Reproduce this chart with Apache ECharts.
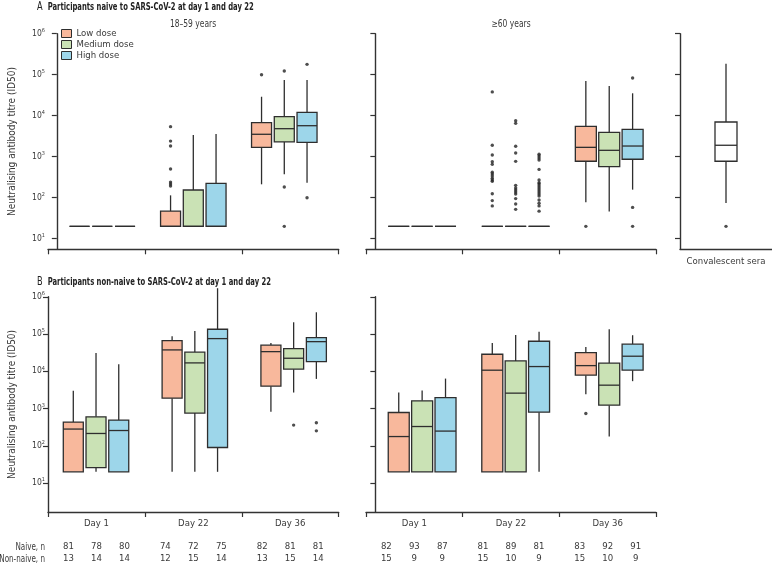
<!DOCTYPE html>
<html><head><meta charset="utf-8">
<script src="https://cdn.jsdelivr.net/npm/echarts@6/dist/echarts.min.js"></script>
<style>html,body{margin:0;padding:0;background:#fff}#c{width:772px;height:564px}</style>
</head><body><div id="c"></div>
<script>
const FONT = "'Liberation Sans Narrow','DejaVu Sans Condensed','Liberation Sans',sans-serif";
const TXT = '#3a3a3a';
const AXIS = '#333';
const STROKE = '#2e2e2e';

const doses = ['Low dose', 'Medium dose', 'High dose'];
const days = ['Day 1', 'Day 22', 'Day 36'];
const yTickExponents = [1, 2, 3, 4, 5, 6];

// Each box per day: [min, Q1, median, Q3, max] of ID50 titres
// A — naive participants, 18–59 years
const aYoungLow  = [[20,20,20,20,20], [20,20,20,47,114], [212,1690,3520,6750,29000]];
const aYoungMed  = [[20,20,20,20,20], [20,20,20,154,3380], [372,2290,4820,9460,74300]];
const aYoungHigh = [[20,20,20,20,20], [20,20,20,224,3580], [232,2245,5700,12100,74300]];
const aYoungLowOut  = [[], [5400,2400,1820,500,240,216,193], [100000]];
const aYoungMedOut  = [[], [], [123000,182,20]];
const aYoungHighOut = [[], [], [179000,100]];

// A — naive participants, >=60 years
const aOldLow  = [[20,20,20,20,20], [20,20,20,20,20], [77,773,1690,5500,70100]];
const aOldMed  = [[20,20,20,20,20], [20,20,20,20,20], [46,570,1430,3940,53000]];
const aOldHigh = [[20,20,20,20,20], [20,20,20,20,20], [157,865,1820,4660,35200]];
const aOldLowOut  = [[], [38000,1900,1100,750,650,420,380,340,300,270,250,125,85,63], [20]];
const aOldMedOut  = [[], [7500,6500,1800,1230,770,200,172,154,138,123,95,70,52], []];
const aOldHighOut = [[], [1150,1040,930,830,490,270,232,216,193,172,154,138,123,110,88,73,63,47], [83000,58,20]];

// A — convalescent sera
const convalescent = [74,773,1900,7010,185000];
const convalescentOut = [20];

// B — non-naive participants, 18–59 years
const bYoungLow  = [[20,20,281,432,2990], [20,1900,37500,66500,87300], [815,3980,33700,50100,57700]];
const bYoungMed  = [[20,26,214,598,31100], [20,753,16800,32500,121000], [2690,11400,22400,40600,207000]];
const bYoungHigh = [[20,20,257,489,15500], [20,90,75400,134600,1700000], [6250,18200,62500,80000,384000]];
const bYoungLowOut  = [[], [], []];
const bYoungMedOut  = [[], [], [359]];
const bYoungHighOut = [[], [], [414,252]];

// B — non-naive participants, >=60 years
const bOldLow  = [[20,20,177,782,2690], [20,20,10700,28700,57700], [2430,7850,14200,31700,45100]];
const bOldMed  = [[20,20,329,1610,3040], [20,20,2590,19000,94600], [177,1230,4240,16500,134600]];
const bOldHigh = [[20,20,248,1970,6370], [20,800,13400,64100,116000], [5430,10700,25400,53300,93000]];
const bOldLowOut  = [[], [], [735]];
const bOldMedOut  = [[], [], []];
const bOldHighOut = [[], [], []];

// Participant counts (per day: low, medium, high)
const naiveNYoung    = [[81,78,80], [74,72,75], [82,81,81]];
const nonNaiveNYoung = [[13,14,14], [12,15,14], [13,15,14]];
const naiveNOld      = [[82,93,87], [81,89,81], [83,92,91]];
const nonNaiveNOld   = [[15,9,9], [15,10,9], [15,10,9]];

const doseColors = ['#F8B89C', '#CAE2B5', '#9DD6EA'];

const panels = [
  {grid:{left:48, top:33.7, width:290.7, height:215.6}, yMin:0.741, xMin:-0.097, xMax:3.098, step:0.25, box:20,
   boxes:[aYoungLow, aYoungMed, aYoungHigh], outs:[aYoungLowOut, aYoungMedOut, aYoungHighOut], colors:doseColors,
   cats:days, catLabels:false, yLabels:true},
  {grid:{left:366, top:33.7, width:290, height:215.6}, yMin:0.741, xMin:-0.1, xMax:3.0, step:0.25, box:21,
   boxes:[aOldLow, aOldMed, aOldHigh], outs:[aOldLowOut, aOldMedOut, aOldHighOut], colors:doseColors,
   cats:days, catLabels:false, yLabels:false},
  {grid:{left:680, top:33.7, width:100, height:215.6}, yMin:0.741, xMin:0, xMax:1, step:0, box:22,
   boxes:[[convalescent]], outs:[[convalescentOut]], colors:['#ffffff'],
   cats:['Convalescent sera'], catLabels:true, yLabels:false, noXTicks:true},
  {grid:{left:48, top:296.8, width:290.7, height:215.5}, yMin:0.222, xMin:0.014, xMax:2.956, step:0.23, box:20,
   boxes:[bYoungLow, bYoungMed, bYoungHigh], outs:[bYoungLowOut, bYoungMedOut, bYoungHighOut], colors:doseColors,
   cats:days, catLabels:true, yLabels:true, table:[naiveNYoung, nonNaiveNYoung]},
  {grid:{left:366, top:296.8, width:290, height:215.5}, yMin:0.222, xMin:-0.1, xMax:3.0, step:0.25, box:21,
   boxes:[bOldLow, bOldMed, bOldHigh], outs:[bOldLowOut, bOldMedOut, bOldHighOut], colors:doseColors,
   cats:days, catLabels:true, yLabels:false, table:[naiveNOld, nonNaiveNOld]}
];

const grids = [], xAxes = [], yAxes = [], series = [];
const tableAxes = [];

function makeBoxRenderer(colors, boxW) {
  return function (params, api) {
    const x = api.value(0);
    const pMin = api.coord([x, api.value(1)]);
    const pQ1 = api.coord([x, api.value(2)]);
    const pMed = api.coord([x, api.value(3)]);
    const pQ3 = api.coord([x, api.value(4)]);
    const pMax = api.coord([x, api.value(5)]);
    const fill = colors[api.value(6)];
    const cx = pMin[0];
    const line = {stroke:STROKE, lineWidth:1.3};
    return {type:'group', children:[
      {type:'line', shape:{x1:cx, y1:pMax[1], x2:cx, y2:pQ3[1]}, style:line},
      {type:'line', shape:{x1:cx, y1:pQ1[1], x2:cx, y2:pMin[1]}, style:line},
      {type:'rect', shape:{x:cx - boxW/2, y:pQ3[1], width:boxW, height:pQ1[1] - pQ3[1]},
        style:{fill:fill, stroke:STROKE, lineWidth:1.3}},
      {type:'line', shape:{x1:cx - boxW/2, y1:pMed[1], x2:cx + boxW/2, y2:pMed[1]}, style:line}
    ]};
  };
}

panels.forEach((p, g) => {
  grids.push(p.grid);
  const nDose = p.boxes.length;
  const mid = (nDose - 1) / 2;
  xAxes.push({
    type:'category', gridIndex:g, data:p.cats, boundaryGap:true,
    axisLine:{show:true, lineStyle:{color:AXIS, width:1.4}},
    axisTick:{show:!p.noXTicks, length:5, lineStyle:{color:AXIS, width:1.2}},
    axisLabel:{show:p.catLabels, interval:0, margin:7, fontSize:9.5, fontFamily:FONT, color:TXT},
    splitLine:{show:false}
  });
  xAxes.push({type:'value', gridIndex:g, min:p.xMin, max:p.xMax, show:false, splitLine:{show:false}});
  yAxes.push({
    type:'value', gridIndex:g, min:p.yMin, max:6,
    axisLine:{show:true, lineStyle:{color:AXIS, width:1.4}},
    axisTick:{show:true, length:5, customValues:yTickExponents, lineStyle:{color:AXIS, width:1.2}},
    axisLabel:{show:p.yLabels, customValues:yTickExponents, margin:3,
      formatter:v => '{b|10}{s|' + v + '}',
      rich:{b:{fontSize:8.5, fontFamily:FONT, color:TXT, lineHeight:12},
            s:{fontSize:5.5, fontFamily:FONT, color:TXT, verticalAlign:'top'}}},
    splitLine:{show:false},
    name:p.yLabels ? 'Neutralising antibody titre (ID50)' : '',
    nameLocation:'middle', nameRotate:90, nameGap:31,
    nameTextStyle:{fontSize:10, fontFamily:FONT, color:TXT}
  });
  const boxItems = [], outItems = [];
  p.boxes.forEach((doseBoxes, k) => {
    doseBoxes.forEach((b, d) => {
      const x = d + 0.5 + (k - mid) * p.step;
      boxItems.push([x].concat(b.map(v => Math.log10(v)), [k]));
      p.outs[k][d].forEach(v => outItems.push([x, Math.log10(v)]));
    });
  });
  series.push({
    type:'custom', xAxisIndex:2*g + 1, yAxisIndex:g, silent:true,
    renderItem:makeBoxRenderer(p.colors, p.box),
    encode:{x:0, y:[1,2,3,4,5]},
    data:boxItems
  });
  series.push({
    type:'scatter', xAxisIndex:2*g + 1, yAxisIndex:g, symbolSize:3.4, silent:true,
    itemStyle:{color:'#222'}, data:outItems
  });
  if (p.table) tableAxes.push({g, table:p.table, cats:p.cats});
});

tableAxes.forEach(t => {
  xAxes.push({
    type:'category', gridIndex:t.g, data:t.cats, position:'bottom',
    axisLine:{show:false}, axisTick:{show:false},
    axisLabel:{interval:0, margin:29, lineHeight:11.5,
      formatter:(v, i) => t.table[0][i].map(n => '{n|' + n + '}').join('') + '\n' +
                          t.table[1][i].map(n => '{n|' + n + '}').join(''),
      rich:{n:{width:28, align:'center', fontSize:9.5, fontFamily:FONT, color:TXT, lineHeight:11.5}}},
    splitLine:{show:false}
  });
});

doses.forEach((name, k) => series.push({
  type:'bar', name, xAxisIndex:0, yAxisIndex:0, data:[],
  itemStyle:{color:doseColors[k], borderColor:STROKE, borderWidth:1}
}));

const textStyle = (extra) => Object.assign({fontFamily:FONT, fill:TXT}, extra);
const titleRich = {a:{fontSize:12, fontFamily:FONT, fill:'#222'}, t:{fontSize:10, fontWeight:'bold', fontFamily:FONT, fill:'#222'}};

const option = {
  animation:false,
  backgroundColor:'#fff',
  grid:grids, xAxis:xAxes, yAxis:yAxes, series,
  legend:{data:doses, left:61, top:28, padding:0, orient:'vertical', icon:'rect', itemWidth:10, itemHeight:8, itemGap:0,
    itemStyle:{borderColor:STROKE, borderWidth:1}, selectedMode:false,
    textStyle:{fontSize:9.5, fontFamily:FONT, color:TXT, lineHeight:11}},
  graphic:[
    {type:'text', x:37, y:7, scaleX:0.76, style:{text:'{a|A}  {t|Participants naive to SARS-CoV-2 at day 1 and day 22}', verticalAlign:'middle', rich:titleRich}},
    {type:'text', x:37, y:282, scaleX:0.76, style:{text:'{a|B}  {t|Participants non-naive to SARS-CoV-2 at day 1 and day 22}', verticalAlign:'middle', rich:titleRich}},
    {type:'text', x:193, y:24, scaleX:0.84, style:textStyle({text:'18–59 years', fontSize:10, align:'center', verticalAlign:'middle'})},
    {type:'text', x:511, y:24, scaleX:0.84, style:textStyle({text:'≥60 years', fontSize:10, align:'center', verticalAlign:'middle'})},
    {type:'text', x:45, y:547.7, scaleX:0.8, style:textStyle({text:'Naive, n', fontSize:10, align:'right', verticalAlign:'middle'})},
    {type:'text', x:45, y:559.2, scaleX:0.8, style:textStyle({text:'Non-naive, n', fontSize:10, align:'right', verticalAlign:'middle'})}
  ]
};

const chart = echarts.init(document.getElementById('c'), null, {renderer:'canvas'});
chart.setOption(option);
</script>
</body></html>
